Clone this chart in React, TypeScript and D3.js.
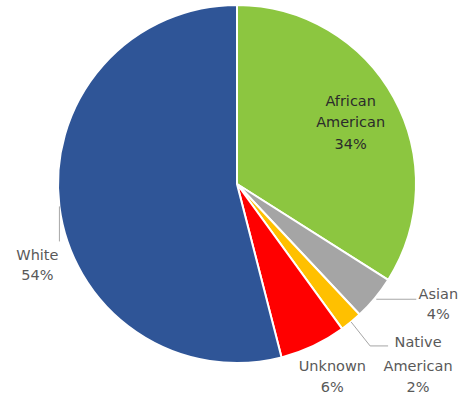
import React from "react";
import * as d3 from "d3";

const categories = ["African American", "Asian", "Native American", "Unknown", "White"];
const shares = [34, 4, 2, 6, 54];
const colors = ["#8cc640", "#a5a5a5", "#ffc000", "#ff0000", "#2f5597"];

const W = 463;
const H = 409;
const cx = 237;
const cy = 184;
const R = 179;

export default function App() {
  const pie = d3.pie<number>().sort(null).value((d) => d).startAngle(0).endAngle(2 * Math.PI);
  const arcs = pie(shares);
  const arcGen = d3.arc<d3.PieArcDatum<number>>().innerRadius(0).outerRadius(R);

  // point on a circle of radius r at a fraction t across the slice (0 = 12 o'clock, clockwise)
  const at = (a: d3.PieArcDatum<number>, r: number, t = 0.5) => {
    const ang = a.startAngle + (a.endAngle - a.startAngle) * t;
    return [cx + r * Math.sin(ang), cy - r * Math.cos(ang)];
  };

  const font = "Tahoma, 'DejaVu Sans', Verdana, sans-serif";
  const fs = 14.5;
  const textFill = "#595959";
  const leader = "#a6a6a6";

  const [aa, asian, native, unknown, white] = arcs;

  const [aaX, aaY] = at(aa, R * 0.68);
  const [asX, asY] = at(asian, R * 1.01);
  const [naX, naY] = at(native, R);
  const [unX, unY] = at(unknown, R * 1.12);
  const [whX, whY] = at(white, R);

  return (
    <svg
      width={W}
      height={H}
      style={{ position: "absolute", left: 0, top: 0, background: "#fff" }}
      fontFamily={font}
      fontSize={fs}
    >
      <g transform={`translate(${cx},${cy})`}>
        {arcs.map((a, i) => (
          <path key={categories[i]} d={arcGen(a) ?? ""} fill={colors[i]} stroke="#fff" strokeWidth={2} />
        ))}
      </g>

      {/* African American, inside its slice */}
      <text textAnchor="middle" fill="#2b2b2b">
        <tspan x={aaX + 7} y={aaY - 19}>African</tspan>
        <tspan x={aaX + 7} y={aaY + 2}>American</tspan>
        <tspan x={aaX + 7} y={aaY + 24}>{shares[0]}%</tspan>
      </text>

      {/* Asian */}
      <polyline points={`${asX},${asY} ${asX + 40},${asY}`} fill="none" stroke={leader} strokeWidth={1} />
      <text textAnchor="middle" fill={textFill}>
        <tspan x={asX + 62} y={asY}>Asian</tspan>
        <tspan x={asX + 62} y={asY + 20}>{shares[1]}%</tspan>
      </text>

      {/* Native American */}
      <polyline
        points={`${naX},${naY} ${naX + 19},${naY + 24} ${naX + 37},${naY + 24}`}
        fill="none"
        stroke={leader}
        strokeWidth={1}
      />
      <text textAnchor="middle" fill={textFill}>
        <tspan x={naX + 67} y={naY + 25}>Native</tspan>
        <tspan x={naX + 67} y={naY + 49}>American</tspan>
        <tspan x={naX + 67} y={naY + 70}>{shares[2]}%</tspan>
      </text>

      {/* Unknown */}
      <text textAnchor="middle" fill={textFill}>
        <tspan x={unX + 10} y={unY + 6}>Unknown</tspan>
        <tspan x={unX + 10} y={unY + 27}>{shares[3]}%</tspan>
      </text>

      {/* White */}
      <polyline points={`${whX},${whY} ${whX},${whY + 35}`} fill="none" stroke={leader} strokeWidth={1} />
      <text textAnchor="middle" fill={textFill}>
        <tspan x={whX - 22} y={whY + 54}>White</tspan>
        <tspan x={whX - 22} y={whY + 74}>{shares[4]}%</tspan>
      </text>
    </svg>
  );
}
